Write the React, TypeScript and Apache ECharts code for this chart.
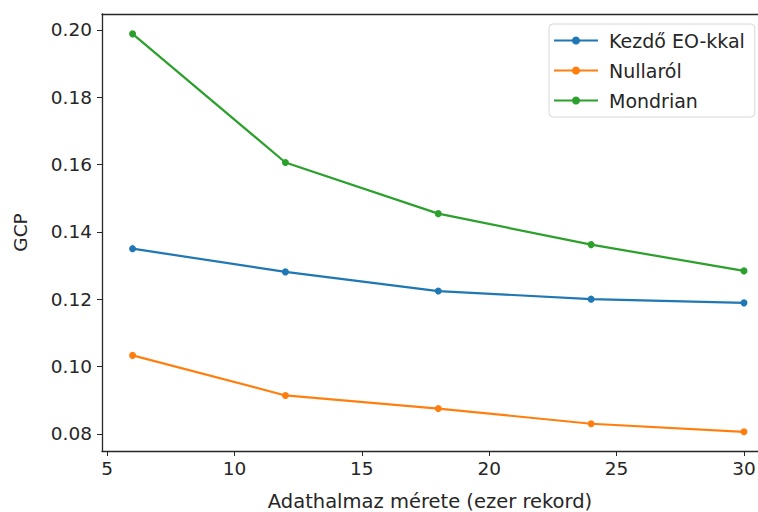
import React, { useEffect, useRef } from "react";
import * as echarts from "echarts";

const xValues = [6, 12, 18, 24, 30];
const seriesNames = ["Kezdő EO-kkal", "Nullaról", "Mondrian"];
const kezdoValues = [0.135, 0.1281, 0.1224, 0.12, 0.1189];
const nullarolValues = [0.1033, 0.0914, 0.0875, 0.083, 0.0806];
const mondrianValues = [0.1988, 0.1606, 0.1454, 0.1362, 0.1284];
const xTicks = [5, 10, 15, 20, 25, 30];
const yTicks = [0.08, 0.1, 0.12, 0.14, 0.16, 0.18, 0.2];
const colors = ["#1f77b4", "#ff7f0e", "#2ca02c"];

export default function App() {
  const ref = useRef<HTMLDivElement>(null);
  useEffect(() => {
    if (!ref.current) return;
    const chart = echarts.init(ref.current, null, { renderer: "svg" });
    const all = [kezdoValues, nullarolValues, mondrianValues];
    const textColor = "#262626";
    const font = "DejaVu Sans";
    const fs = 18.5;
    const axisLine = { show: true, onZero: false, lineStyle: { color: "#262626", width: 1.3 } };
    chart.setOption({
      animation: false,
      grid: { left: 102, top: 14, right: 0, height: 437, outerBoundsMode: "none", containLabel: false },
      legend: {
        orient: "vertical",
        left: 549,
        top: 24,
        data: seriesNames,
        itemWidth: 44,
        itemHeight: 10,
        itemGap: 11,
        padding: [7, 10, 7, 4],
        backgroundColor: "#fff",
        borderColor: "#d6d6d6",
        borderWidth: 1,
        borderRadius: 4,
        textStyle: { fontFamily: font, fontSize: 19, color: textColor, padding: [0, 0, 0, 6] },
      },
      xAxis: [
        {
          type: "value",
          min: 4.8,
          max: 30.55,
          splitLine: { show: false },
          axisLine,
          axisTick: { show: true, length: 5, customValues: xTicks, lineStyle: { color: "#262626" } },
          axisLabel: { customValues: xTicks, fontFamily: font, fontSize: fs, color: textColor, margin: 8 },
          name: "Adathalmaz mérete (ezer rekord)",
          nameLocation: "middle",
          nameGap: 40,
          nameTextStyle: { fontFamily: font, fontSize: 19.5, color: textColor },
        },
        {
          type: "value",
          position: "top",
          min: 4.8,
          max: 30.55,
          splitLine: { show: false },
          axisLine,
          axisTick: { show: false },
          axisLabel: { show: false },
        },
      ],
      yAxis: {
        type: "value",
        min: 0.0749,
        max: 0.2047,
        splitLine: { show: false },
        axisLine,
        axisTick: { show: true, length: 5, customValues: yTicks, lineStyle: { color: "#262626" } },
        axisLabel: {
          customValues: yTicks,
          fontFamily: font,
          fontSize: fs,
          color: textColor,
          margin: 10,
          formatter: (v: number) => v.toFixed(2),
        },
        name: "GCP",
        nameLocation: "middle",
        nameGap: 72,
        nameTextStyle: { fontFamily: font, fontSize: fs, color: textColor },
      },
      series: seriesNames.map((name, i) => ({
        name,
        type: "line",
        xAxisIndex: 0,
        data: xValues.map((x, j) => [x, all[i][j]]),
        symbol: "circle",
        symbolSize: 7,
        lineStyle: { width: 2.2, color: colors[i] },
        itemStyle: { color: colors[i] },
        color: colors[i],
      })),
    });
    return () => chart.dispose();
  }, []);
  return <div ref={ref} style={{ width: 758, height: 512, position: "absolute", left: 0, top: 0, background: "#fff" }} />;
}
